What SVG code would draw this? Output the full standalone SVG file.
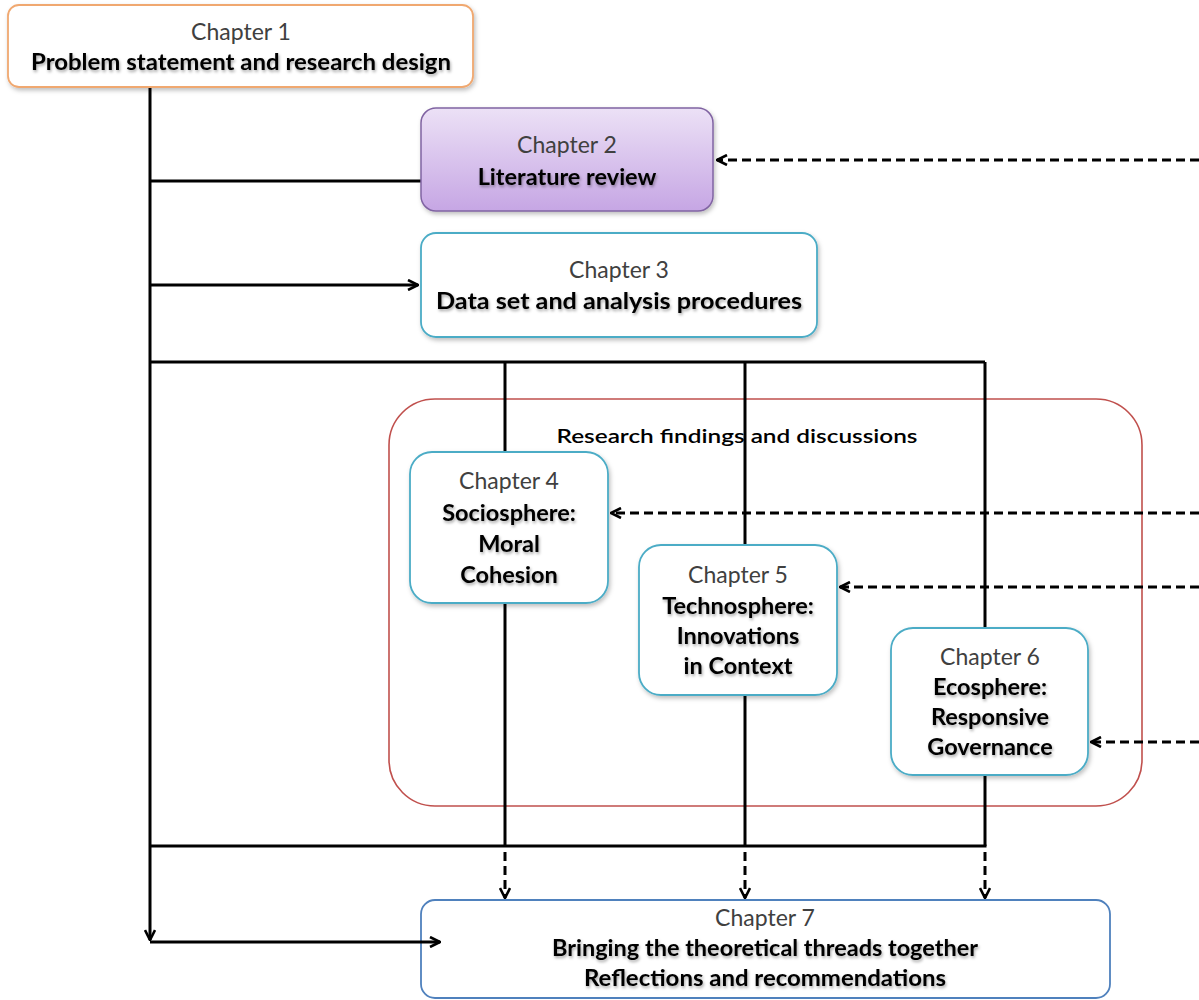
<svg xmlns="http://www.w3.org/2000/svg" width="1199" height="1000" viewBox="0 0 1199 1000">
<style>
.box{fill:#fff;stroke-width:1.8}
.ch{font-family:Lato,"Liberation Sans",sans-serif;font-size:23px;fill:#404040;text-anchor:middle}
.bd{font-family:Lato,"Liberation Sans",sans-serif;font-size:23.5px;font-weight:bold;fill:#000;text-anchor:middle;filter:url(#ts)}
.ln{fill:none;stroke:#000;stroke-width:3}
.ds{fill:none;stroke:#000;stroke-width:3;stroke-dasharray:9,5}
</style>
<defs>
<filter id="sh" x="-10%" y="-10%" width="130%" height="130%"><feDropShadow dx="1.5" dy="2.5" stdDeviation="2" flood-color="#000" flood-opacity="0.25"/></filter>
<filter id="ts" x="-5%" y="-20%" width="115%" height="160%"><feDropShadow dx="1" dy="2" stdDeviation="1.5" flood-color="#000" flood-opacity="0.35"/></filter>
<linearGradient id="pg" x1="0" y1="0" x2="0" y2="1"><stop offset="0" stop-color="#ECE1F6"/><stop offset="1" stop-color="#C6A6E4"/></linearGradient>
<marker id="ah" viewBox="0 0 12 12" refX="11" refY="6" markerWidth="12" markerHeight="12" markerUnits="userSpaceOnUse" orient="auto"><path d="M1,1 L11,6 L1,11" fill="none" stroke="#000" stroke-width="2.6"/></marker>
</defs>
<rect width="1199" height="1000" fill="#fff"/>

<g id="group-findings">
<rect x="389" y="399" width="753" height="407" rx="46" fill="none" stroke="#C0504D" stroke-width="1.6"/>
<text x="737" y="443" font-family="Lato,Liberation Sans,sans-serif" font-size="19" font-weight="600" fill="#000" text-anchor="middle" textLength="361" lengthAdjust="spacingAndGlyphs">Research findings and discussions</text>
</g>

<g id="ch7">
<rect class="box" x="421" y="900" width="689" height="98" rx="14" stroke="#4F81BD" stroke-width="1.5"/>
<text class="ch" x="765" y="926">Chapter 7</text>
<text class="bd" x="765" y="956" textLength="426" lengthAdjust="spacingAndGlyphs">Bringing the theoretical threads together</text>
<text class="bd" x="765" y="986" textLength="362" lengthAdjust="spacingAndGlyphs">Reflections and recommendations</text>
</g>

<g id="connectors">
<line class="ln" x1="150" y1="87" x2="150" y2="940" marker-end="url(#ah)"/>
<line class="ln" x1="150" y1="181" x2="421" y2="181"/>
<line class="ln" x1="150" y1="285" x2="418" y2="285" marker-end="url(#ah)"/>
<polyline class="ln" points="150,362 985,362"/>
<line class="ln" x1="505" y1="362" x2="505" y2="452"/>
<line class="ln" x1="745" y1="362" x2="745" y2="545"/>
<line class="ln" x1="985" y1="362" x2="985" y2="628"/>
<line class="ln" x1="505" y1="603" x2="505" y2="846"/>
<line class="ln" x1="745" y1="695" x2="745" y2="846"/>
<line class="ln" x1="985" y1="775" x2="985" y2="846"/>
<line class="ln" x1="150" y1="846" x2="986.5" y2="846"/>
<line class="ln" x1="150" y1="942" x2="440" y2="942" marker-end="url(#ah)"/>
<line class="ds" x1="505" y1="852" x2="505" y2="898" marker-end="url(#ah)"/>
<line class="ds" x1="745" y1="852" x2="745" y2="898" marker-end="url(#ah)"/>
<line class="ds" x1="985" y1="852" x2="985" y2="898" marker-end="url(#ah)"/>
<line class="ds" x1="1199" y1="160" x2="717" y2="160" marker-end="url(#ah)"/>
<line class="ds" x1="1199" y1="513" x2="611" y2="513" marker-end="url(#ah)"/>
<line class="ds" x1="1199" y1="587" x2="840" y2="587" marker-end="url(#ah)"/>
<line class="ds" x1="1199" y1="742" x2="1091" y2="742" marker-end="url(#ah)"/>
</g>

<g id="ch1">
<rect class="box" x="8" y="5" width="465" height="82" rx="11" stroke="#F0A870" filter="url(#sh)"/>
<text class="ch" x="241" y="40">Chapter 1</text>
<text class="bd" x="241" y="70" textLength="420" lengthAdjust="spacingAndGlyphs">Problem statement and research design</text>
</g>

<g id="ch2">
<rect x="421" y="108" width="292" height="103" rx="15" fill="url(#pg)" stroke="#8064A2" stroke-width="1.5" filter="url(#sh)"/>
<text class="ch" x="567" y="153">Chapter 2</text>
<text class="bd" x="567" y="185">Literature review</text>
</g>

<g id="ch3">
<rect class="box" x="421" y="233" width="396" height="104" rx="15" stroke="#4BACC6" filter="url(#sh)"/>
<text class="ch" x="619" y="278">Chapter 3</text>
<text class="bd" x="619" y="309" textLength="366" lengthAdjust="spacingAndGlyphs">Data set and analysis procedures</text>
</g>

<g id="ch4">
<rect class="box" x="410" y="452" width="198" height="151" rx="22" stroke="#4BACC6" filter="url(#sh)"/>
<text class="ch" x="509" y="489">Chapter 4</text>
<text class="bd" x="509" y="521">Sociosphere:</text>
<text class="bd" x="509" y="552">Moral</text>
<text class="bd" x="509" y="583">Cohesion</text>
</g>

<g id="ch5">
<rect class="box" x="639" y="545" width="198" height="150" rx="22" stroke="#4BACC6" filter="url(#sh)"/>
<text class="ch" x="738" y="583">Chapter 5</text>
<text class="bd" x="738" y="614">Technosphere:</text>
<text class="bd" x="738" y="644">Innovations</text>
<text class="bd" x="738" y="674">in Context</text>
</g>

<g id="ch6">
<rect class="box" x="891" y="628" width="197" height="147" rx="22" stroke="#4BACC6" filter="url(#sh)"/>
<text class="ch" x="990" y="665">Chapter 6</text>
<text class="bd" x="990" y="695">Ecosphere:</text>
<text class="bd" x="990" y="725">Responsive</text>
<text class="bd" x="990" y="755">Governance</text>
</g>
</svg>
